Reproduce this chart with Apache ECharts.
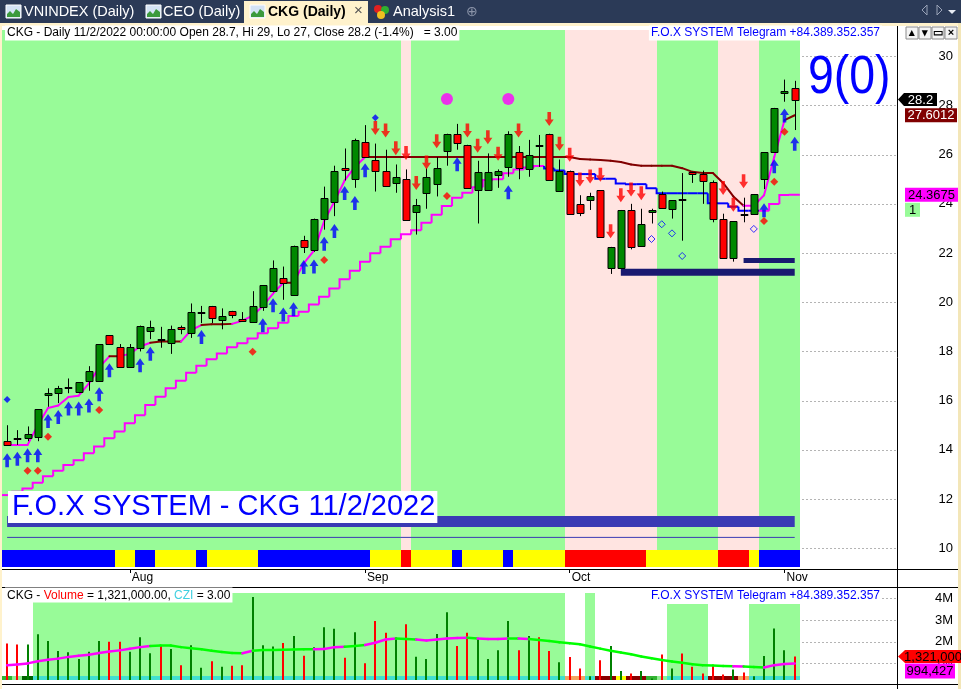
<!DOCTYPE html>
<html><head><meta charset="utf-8">
<script src="https://cdn.jsdelivr.net/npm/echarts@6/dist/echarts.min.js"></script>
<style>html,body{margin:0;padding:0;background:#fff;}#c{width:961px;height:689px;}</style>
</head><body><div id="c"></div>
<script>
// ---------------- DATA ----------------
const dates = ['7/14','7/15','7/18','7/19','7/20','7/21','7/22','7/25','7/26','7/27','7/28','7/29',
'8/1','8/2','8/3','8/4','8/5','8/8','8/9','8/10','8/11','8/12','8/15','8/16','8/17','8/18','8/19','8/22','8/23','8/24','8/25','8/26','8/29','8/30','8/31',
'9/5','9/6','9/7','9/8','9/9','9/12','9/13','9/14','9/15','9/16','9/19','9/20','9/21','9/22','9/23','9/26','9/27','9/28','9/29','9/30',
'10/3','10/4','10/5','10/6','10/7','10/10','10/11','10/12','10/13','10/14','10/17','10/18','10/19','10/20','10/21','10/24','10/25','10/26','10/27','10/28','10/31',
'11/1','11/2'];
const monthNames = ['Jan','Feb','Mar','Apr','May','Jun','Jul','Aug','Sep','Oct','Nov','Dec'];

const open = [14.35,14.5,14.5,14.5,16.2,16.3,16.55,16.35,16.8,16.8,
18.65,18.2,17.4,18.15,18.85,18.5,18.35,19.0,18.75,19.6,
19.85,19.3,19.65,19.3,19.2,19.8,20.45,21.0,20.3,22.55,
22.15,23.4,24.1,25.45,25.0,26.5,25.8,25.35,24.85,25.0,
23.65,24.45,24.8,26.15,26.85,26.4,24.55,24.55,25.2,25.5,
26.1,25.45,26.4,26.85,24.55,25.35,24.0,24.15,24.55,21.4,
21.4,23.75,22.3,23.65,24.4,23.8,24.2,25.3,25.2,24.9,
23.4,21.8,23.6,23.6,25.0,26.1,28.5,28.7];
const high = [15.0,14.8,14.95,15.65,16.5,16.6,16.9,16.75,17.4,18.3,
18.65,18.3,18.3,19.05,19.25,19.0,19.05,19.05,19.95,19.85,
19.85,19.75,19.65,19.6,20.45,20.7,21.7,21.45,22.3,22.7,
23.4,24.7,25.55,26.25,26.65,27.2,26.45,26.2,25.6,25.4,
24.2,25.45,25.9,26.85,27.25,26.4,25.75,26.05,25.4,26.95,
26.35,26.6,26.8,26.85,25.8,25.35,24.35,24.45,24.55,22.25,
23.75,24.0,23.8,23.8,24.5,24.15,25.25,25.3,25.35,24.95,
23.6,23.3,24.25,24.4,26.1,27.9,29.05,29.0];
const low = [14.2,14.2,14.35,14.35,15.75,15.9,16.3,16.3,16.4,16.8,
18.3,17.4,17.35,18.0,18.5,18.15,17.9,18.7,18.55,19.15,
19.15,18.9,19.35,19.2,19.2,19.65,20.4,20.1,20.3,22.0,
22.05,22.95,23.5,24.95,24.65,25.9,24.5,24.75,24.45,23.35,
22.75,23.8,24.3,25.55,26.2,24.65,23.2,24.55,24.65,25.1,
25.0,25.1,25.5,25.0,24.55,23.6,23.5,23.75,22.65,21.15,
21.4,22.15,22.25,23.2,23.8,23.4,22.5,24.85,24.0,23.25,
21.8,21.65,23.25,23.55,24.6,26.1,28.15,27.0];
const close = [14.2,14.5,14.65,15.65,16.3,16.5,16.55,16.75,17.2,18.3,
18.3,17.4,18.2,19.05,19.0,18.5,18.9,18.9,19.6,19.6,
19.35,19.45,19.5,19.2,19.85,20.7,21.4,20.8,22.3,22.25,
23.4,24.25,25.35,25.35,26.6,25.9,25.35,24.75,25.1,23.35,
23.95,25.1,25.45,26.85,26.5,24.65,25.3,25.3,25.35,26.85,
25.45,26.0,26.4,25.0,25.35,23.6,23.65,24.3,22.65,22.25,
23.75,22.25,23.2,23.75,23.85,24.15,24.2,25.2,24.9,23.4,
21.8,23.3,23.6,24.4,26.1,27.9,28.6,28.2];

// upper trailing line (magenta rising / maroon flat-falling)
const trendLine = [14.2,14.2,14.2,15.0,15.7,15.8,16.15,16.2,16.7,17.35,
17.8,17.8,17.9,18.2,18.35,18.4,18.4,18.4,18.87,19.07,
19.1,19.1,19.12,19.25,19.45,19.85,20.35,20.79,20.79,21.58,
22.1,23.3,24.1,24.95,25.5,25.9,25.9,25.9,25.9,25.9,
25.9,25.9,25.9,25.9,25.9,25.9,25.9,25.9,25.9,25.9,
25.9,25.9,25.9,25.9,25.9,25.9,25.82,25.8,25.78,25.75,
25.7,25.6,25.55,25.55,25.55,25.55,25.45,25.3,25.25,25.25,
24.85,24.3,23.92,23.92,24.35,25.9,27.4,27.6012];
const trendColorRuns = [['M',11],['R',1],['M',3],['R',3],['M',2],['R',3],['M',5],['R',1],['M',7],['R',37],['M',4],['R',1]];

// lower step stop line (magenta rising / blue falling)
const stopLine = [12.16,12.3,12.43,12.66,12.93,13.15,13.38,13.58,13.86,14.13,
14.47,14.74,15.08,15.41,15.82,16.16,16.5,16.81,17.13,17.42,
17.68,17.92,18.17,18.33,18.53,18.74,18.94,19.17,19.44,19.61,
19.91,20.22,20.56,20.93,21.28,21.65,21.99,22.26,22.56,22.76,
22.93,23.23,23.56,23.91,24.25,24.45,24.67,24.97,25.0,25.24,
25.4,25.48,25.54,25.44,25.35,25.21,25.21,25.21,25.02,25.02,
24.83,24.8,24.8,24.63,24.43,24.43,24.43,24.43,24.43,24.02,
24.02,23.88,23.72,23.72,23.72,23.99,24.36,24.3675];
const stopColorRuns = [['M',53],['B',21],['M',4]];

const bandLevel = 11.09, thinLevel = 10.44;
const support1 = {from:60, to:77, value:21.22};
const support2 = {from:72, to:77, value:21.7};

const priceBgRuns = [['G',39],['P',1],['G',15],['P',9],['G',6],['P',4],['G',4]];
const ribbonRuns = [['B',11],['Y',2],['B',2],['Y',4],['B',1],['Y',5],['B',11],['Y',3],['R',1],['Y',4],['B',1],['Y',4],['B',1],['Y',5],['R',8],['Y',7],['R',3],['Y',1],['B',4]];

const buyArrows = [[0,13.86],[1,13.92],[2,14.06],[3,14.06],[4,15.46],[5,15.62],[6,15.96],[7,15.96],[8,16.09],[9,16.54],
[10,17.52],[13,17.72],[14,18.19],[19,18.87],[25,19.35],[26,20.16],[27,19.79],[28,20.0],[29,21.72],[30,21.74],[31,22.66],
[32,23.18],[33,24.72],[34,24.32],[35,25.65],[44,25.89],[49,24.76],[74,24.02],[75,25.81],[76,27.88],[77,26.73]];
const sellArrows = [[36,26.8],[37,26.7],[38,25.98],[39,25.78],[40,24.56],[41,25.4],[42,26.26],[45,26.7],[46,26.08],[47,26.42],
[48,25.75],[50,26.7],[53,27.16],[54,26.16],[55,25.71],[56,24.7],[57,24.83],[58,24.9],[59,22.6],[60,24.06],[61,24.3],[62,24.15],
[70,24.36],[71,23.68],[72,24.63]];
const redDots = [[2,13.15],[3,13.15],[4,14.53],[9,15.62],[24,17.99],[31,21.72],[43,24.32],[74,23.3],[75,24.9],[76,26.93]];
const blueDots = [[0,16.05],[36,27.5]];
const hollowDiamonds = [[63,22.57],[64,23.17],[65,22.8],[66,21.88],[73,22.98]];
const pinkCircles = [[43,28.26],[49,28.26]];

// volume (millions)
const volume = [1.92,1.87,1.87,2.34,2.03,1.57,1.51,1.2,1.54,2.03,
2.0,2.0,1.54,2.21,1.47,1.84,1.66,0.92,1.84,0.8,
1.1,0.85,0.89,0.92,4.06,1.84,1.78,1.94,2.26,1.35,
1.75,2.67,2.6,1.26,2.44,1.01,2.95,2.41,2.2,2.81,
1.31,1.2,2.35,3.36,1.8,2.41,2.12,1.2,1.61,2.95,
1.61,2.26,2.2,1.57,1.05,1.29,0.77,0.41,1.14,1.8,
0.65,0.54,0.65,0.3,1.41,0.77,1.46,0.85,0.54,0.92,
0.49,0.72,0.58,0.41,1.34,2.61,1.61,1.321];
const volColor = 'RRGGGGGGGG'+'RRGGGRGRGG'+'RGRRGGGRGR'+'GGGRGRRRGR'+'GGGGRRGGGG'+'RGRRGRRGRG'+'GRGGRGRRRR'+'RGRGGGGR';
const volMA = [0.92,0.95,1.0,1.1,1.17,1.22,1.3,1.35,1.4,1.48,
1.55,1.6,1.68,1.75,1.8,1.83,1.82,1.75,1.7,1.65,
1.58,1.53,1.48,1.47,1.58,1.62,1.62,1.63,1.64,1.65,
1.65,1.66,1.75,1.77,1.8,1.85,1.95,2.1,2.15,2.13,
2.1,2.05,2.1,2.15,2.17,2.18,2.15,2.12,2.12,2.15,
2.15,2.12,2.08,2.03,1.97,1.93,1.88,1.78,1.68,1.58,
1.5,1.42,1.32,1.24,1.16,1.09,1.03,0.96,0.92,0.9,
0.88,0.87,0.86,0.83,0.81,0.92,0.97,0.994427];
const volMAColorRuns = [['M',15],['G',9],['M',1],['G',6],['M',3],['G',2],['M',3],['G',2],['M',5],['G',1],['M',3],['G',1],['M',1],['G',20],['M',1],['G',2],['M',3]];
const volBgRuns = [[0,3],[4.24,52],[0,2],[4.24,1],[0,7],[3.76,4],[0,4],[3.76,5]];
const volRibbonRuns = [['g',1],['l',1],['d',1],['c',52],['o',2],['c',1],['r',2],['y',1],['r',2],['g',1],['l',1],['c',4],['r',3],['o',1],['c',5]];

const priceTicks = [10,12,14,16,18,20,22,24,26,28,30];
const volTicks = [1,2,3,4];

// ---------------- BUILD ----------------
const expand = r => r.flatMap(([k,n]) => Array(n).fill(k));
const trendColor = expand(trendColorRuns), stopColor = expand(stopColorRuns);
const priceBg = expand(priceBgRuns), ribbon = expand(ribbonRuns);
const volMAColor = expand(volMAColorRuns), volBg = expand(volBgRuns), volRibbon = expand(volRibbonRuns);
const N = dates.length;
const monthOf = d => parseInt(d.split('/')[0], 10);
const monthTicks = [], monthLabels = [];
dates.forEach((d,i)=>{ if(i>0 && monthOf(d)!==monthOf(dates[i-1])){ monthTicks.push(i); monthLabels.push(monthNames[monthOf(d)-1]); }});

const FONT = '"Liberation Sans", Arial, sans-serif';
const COL = {M:'#ff00ff', R:'#800000', B:'#0000ff', G:'#98fb98', P:'#ffe4e1'};
const ribbonCol = {B:'#0000ff', Y:'#ffff00', R:'#ff0000'};
const volRibCol = {c:'#40e0d0', o:'#f4a460', r:'#8b0000', y:'#ffff00', g:'#32b432', l:'#90ee90', d:'#006400'};

const chart = echarts.init(document.getElementById('c'));

function gridLineRender(params, api){
  const cs = params.coordSys;
  const y = Math.round(api.coord([0, api.value(1)])[1]) + 0.5;
  return {type:'line', shape:{x1:cs.x, y1:y, x2:cs.x+cs.width, y2:y}, style:{stroke:'#b4b4b4', lineWidth:1, lineDash:[2,2]}};
}
function priceBgRender(params, api){
  const cs = params.coordSys, i = api.value(0);
  const x0 = Math.round(api.coord([i-0.5, 20])[0]), x1 = Math.round(api.coord([i+0.5, 20])[0]);
  const bot = cs.y + cs.height;
  return {type:'group', children:[
    {type:'rect', shape:{x:x0, y:cs.y, width:x1-x0, height:cs.height}, style:{fill:'#ffffff'}},
    {type:'rect', shape:{x:x0, y:cs.y+5, width:x1-x0, height:cs.height-7}, style:{fill:COL[priceBg[i]]}},
    {type:'rect', shape:{x:x0, y:bot-19, width:x1-x0, height:17}, style:{fill:ribbonCol[ribbon[i]]}}
  ]};
}
function trendRender(params, api){
  const i = api.value(0);
  if(i === 0) return null;
  const p0 = api.coord([i-1, trendLine[i-1]]), p1 = api.coord([i, trendLine[i]]);
  return {type:'line', shape:{x1:p0[0], y1:p0[1], x2:p1[0], y2:p1[1]}, style:{stroke:COL[trendColor[i]], lineWidth:2, lineCap:'round'}};
}
function stopRender(params, api){
  const i = api.value(0);
  const xL = api.coord([i-0.5, stopLine[i]])[0], xR = api.coord([i+0.5, stopLine[i]])[0];
  const y = api.coord([i, stopLine[i]])[1];
  const yP = i>0 ? api.coord([i, stopLine[i-1]])[1] : y;
  return {type:'polyline', shape:{points:[[xL,yP],[xL,y],[xR,y]]}, style:{stroke:COL[stopColor[i]], lineWidth:2, fill:null}};
}
function candleRender(params, api){
  const i = api.value(0), o = api.value(1), c = api.value(2), l = api.value(3), h = api.value(4);
  const pO = api.coord([i,o]), pC = api.coord([i,c]), pL = api.coord([i,l]), pH = api.coord([i,h]);
  const x = Math.round(pO[0]) + 0.5;
  const top = Math.min(pO[1],pC[1]), bot = Math.max(pO[1],pC[1]);
  const fill = c>o ? '#008800' : (c<o ? '#ff0000' : '#000000');
  return {type:'group', children:[
    {type:'line', shape:{x1:x, y1:pH[1], x2:x, y2:pL[1]}, style:{stroke:'#000', lineWidth:1}},
    {type:'rect', shape:{x:x-3.5, y:Math.round(top)+0.5, width:7, height:Math.max(Math.round(bot-top),1)}, style:{fill:fill, stroke:'#000', lineWidth:1}}
  ]};
}
function volBgRender(params, api){
  const cs = params.coordSys, i = api.value(0);
  const x0 = Math.round(api.coord([i-0.5, 1])[0]), x1 = Math.round(api.coord([i+0.5, 1])[0]);
  const bot = cs.y + cs.height;
  const ch = [{type:'rect', shape:{x:x0, y:cs.y, width:x1-x0, height:cs.height}, style:{fill:'#ffffff'}}];
  if(volBg[i] > 0){
    const yt = Math.round(api.coord([i, volBg[i]])[1]);
    ch.push({type:'rect', shape:{x:x0, y:yt, width:x1-x0, height:bot-yt}, style:{fill:'#98fb98'}});
  }
  ch.push({type:'rect', shape:{x:x0, y:bot-4, width:x1-x0, height:4}, style:{fill:volRibCol[volRibbon[i]]}});
  return {type:'group', children:ch};
}
function volBarRender(params, api){
  const cs = params.coordSys, i = api.value(0), v = api.value(1);
  const p = api.coord([i, v]);
  const x = Math.round(p[0]) - 1;
  const bot = cs.y + cs.height;
  return {type:'rect', shape:{x:x, y:p[1], width:2, height:bot-p[1]}, style:{fill: volColor[i]==='G' ? '#008000' : '#ff0000'}};
}
function volMARender(params, api){
  const i = api.value(0);
  if(i === 0) return null;
  const p0 = api.coord([i-1, volMA[i-1]]), p1 = api.coord([i, volMA[i]]);
  return {type:'line', shape:{x1:p0[0], y1:p0[1], x2:p1[0], y2:p1[1]}, style:{stroke: volMAColor[i]==='M' ? '#ff00ff' : '#00ff00', lineWidth:2.5, lineCap:'round'}};
}

const idxData = dates.map((d,i)=>[i, 20]);
const UP = 'path://M5,0 L10,7 L7,7 L7,15 L3,15 L3,7 L0,7 Z';
const DOWN = 'path://M3,0 L7,0 L7,8 L10,8 L5,15 L0,8 L3,8 Z';
const flatLine = (a,b,v,w,color) => ({type:'line', xAxisIndex:0, yAxisIndex:0, data:[[a,v],[b,v]], symbol:'none', silent:true, z:3,
  lineStyle:{width:w, color:color, cap:'butt'}});

const option = {
  animation:false,
  backgroundColor:'#ffffff',
  grid:[{left:2, right:64, top:25, height:544}, {left:2, right:64, top:587, height:93}],
  xAxis:[
    {type:'value', gridIndex:0, min:-0.5, max:87, axisLine:{show:false}, splitLine:{show:false},
     axisTick:{show:true, customValues:monthTicks, length:4, lineStyle:{color:'#000'}},
     axisLabel:{show:true, customValues:monthTicks, formatter:v=>{const k=monthTicks.indexOf(v); return k>=0?monthLabels[k]:'';},
       align:'left', margin:3, padding:[0,0,0,2], color:'#000', fontSize:12, fontFamily:FONT}},
    {type:'value', gridIndex:1, min:-0.5, max:87, axisLine:{show:false}, axisTick:{show:false}, axisLabel:{show:false}, splitLine:{show:false}}
  ],
  yAxis:[
    {type:'value', gridIndex:0, position:'right', min:9.155, max:31.27, axisLine:{show:false}, splitLine:{show:false},
     axisTick:{show:true, customValues:priceTicks, length:5, lineStyle:{color:'#000'}},
     axisLabel:{customValues:priceTicks, align:'right', margin:56, color:'#000', fontSize:13, fontFamily:FONT}},
    {type:'value', gridIndex:1, position:'right', min:0.235, max:4.521, axisLine:{show:false}, splitLine:{show:false},
     axisTick:{show:true, customValues:volTicks, length:5, lineStyle:{color:'#000'}},
     axisLabel:{customValues:volTicks, formatter:v=>v+'M', align:'right', margin:56, color:'#000', fontSize:13, fontFamily:FONT}}
  ],
  series:[
    {type:'custom', xAxisIndex:0, yAxisIndex:0, data:priceTicks.map(v=>[0,v]), renderItem:gridLineRender, z:1, silent:true},
    {type:'custom', xAxisIndex:0, yAxisIndex:0, data:idxData, renderItem:priceBgRender, z:2, silent:true},
    flatLine(0,77,bandLevel,11,'#3a3ab4'),
    flatLine(0,77,thinLevel,1,'#3a3ab4'),
    flatLine(support1.from,support1.to,support1.value,7,'#191970'),
    flatLine(support2.from,support2.to,support2.value,5,'#191970'),
    {type:'custom', xAxisIndex:0, yAxisIndex:0, data:idxData, renderItem:stopRender, z:4, silent:true},
    {type:'custom', xAxisIndex:0, yAxisIndex:0, data:idxData, renderItem:trendRender, z:4, silent:true},
    {type:'custom', xAxisIndex:0, yAxisIndex:0, data:dates.map((d,i)=>[i,open[i],close[i],low[i],high[i]]), encode:{x:0,y:[1,2,3,4]}, renderItem:candleRender, z:5, silent:true},
    {type:'scatter', xAxisIndex:0, yAxisIndex:0, data:buyArrows, symbol:UP, symbolSize:[9,14], symbolOffset:[0,7], itemStyle:{color:'#0000ff'}, z:6, silent:true},
    {type:'scatter', xAxisIndex:0, yAxisIndex:0, data:sellArrows, symbol:DOWN, symbolSize:[9,14], symbolOffset:[0,-7], itemStyle:{color:'#ff0000'}, z:6, silent:true},
    {type:'scatter', xAxisIndex:0, yAxisIndex:0, data:redDots, symbol:'diamond', symbolSize:8, itemStyle:{color:'#ff0000'}, z:6, silent:true},
    {type:'scatter', xAxisIndex:0, yAxisIndex:0, data:blueDots, symbol:'diamond', symbolSize:7, itemStyle:{color:'#0000ff'}, z:6, silent:true},
    {type:'scatter', xAxisIndex:0, yAxisIndex:0, data:hollowDiamonds, symbol:'diamond', symbolSize:7, itemStyle:{color:'rgba(0,0,0,0)', borderColor:'#0000ff', borderWidth:1}, z:6, silent:true},
    {type:'scatter', xAxisIndex:0, yAxisIndex:0, data:pinkCircles, symbol:'circle', symbolSize:12, itemStyle:{color:'#ff00ff'}, z:6, silent:true},
    {type:'custom', xAxisIndex:1, yAxisIndex:1, data:volTicks.map(v=>[0,v]), renderItem:gridLineRender, z:1, silent:true},
    {type:'custom', xAxisIndex:1, yAxisIndex:1, data:dates.map((d,i)=>[i,1]), renderItem:volBgRender, z:2, silent:true},
    {type:'custom', xAxisIndex:1, yAxisIndex:1, data:volume.map((v,i)=>[i,v]), renderItem:volBarRender, z:3, silent:true},
    {type:'custom', xAxisIndex:1, yAxisIndex:1, data:idxData, renderItem:volMARender, z:4, silent:true}
  ]
};
chart.setOption(option);

// ---------------- OVERLAY (tabs, titles, tags) ----------------
const py = v => chart.convertToPixel({xAxisIndex:0, yAxisIndex:0}, [0, v])[1];
const vy = v => chart.convertToPixel({xAxisIndex:1, yAxisIndex:1}, [0, v])[1];
const Z = 200;
const g = [];
const txt = (x,y,text,font,fill,extra) => ({type:'text', x:x, y:y, z:Z+2, silent:true,
  style:Object.assign({text:text, font:font, fill:fill, verticalAlign:'middle'}, extra||{})});
const rect = (x,y,w,h,fill,extra) => ({type:'rect', z:Z, silent:true, shape:{x:x,y:y,width:w,height:h}, style:Object.assign({fill:fill}, extra||{})});

// tab bar
g.push(rect(0,0,961,23,'#2b3a57'));
g.push(rect(0,23,961,3,'#fff2cc'));
g.push(rect(244,1,124,23,'#fff2cc'));
function chartIcon(x){
  g.push(Object.assign(rect(x,5,15,13,'#d4e3f5',{stroke:'#ffffff', lineWidth:1}),{z:Z+1}));
  g.push({type:'polygon', z:Z+2, silent:true, shape:{points:[[x+1,17],[x+1,14],[x+4,11],[x+7,14],[x+10,9],[x+14,12],[x+14,17]]}, style:{fill:'#3c9a3c'}});
}
chartIcon(6); chartIcon(146); chartIcon(250);
g.push(txt(24,12,'VNINDEX (Daily)','14.5px '+FONT,'#ffffff'));
g.push(txt(163,12,'CEO (Daily)','14.5px '+FONT,'#ffffff'));
g.push(txt(268,12,'CKG (Daily)','bold 14px '+FONT,'#000000'));
g.push(txt(354,11,'\u00d7','15px '+FONT,'#555555'));
g.push({type:'circle', z:Z+2, silent:true, shape:{cx:378,cy:9,r:4}, style:{fill:'#e02020'}});
g.push({type:'circle', z:Z+2, silent:true, shape:{cx:385,cy:10,r:4}, style:{fill:'#30b030'}});
g.push({type:'circle', z:Z+2, silent:true, shape:{cx:381,cy:15,r:4}, style:{fill:'#f0c020'}});
g.push(txt(393,12,'Analysis1','14.5px '+FONT,'#ffffff'));
g.push(txt(466,12,'\u2295','14px '+FONT,'#8a93a8'));
g.push({type:'polygon', z:Z+2, silent:true, shape:{points:[[927,5],[927,15],[922,10]]}, style:{fill:'none', stroke:'#9aa3b8'}});
g.push({type:'polygon', z:Z+2, silent:true, shape:{points:[[937,5],[937,15],[942,10]]}, style:{fill:'none', stroke:'#9aa3b8'}});
g.push({type:'polygon', z:Z+2, silent:true, shape:{points:[[948,10],[956,10],[952,14]]}, style:{fill:'#e8ecf4'}});

// frame
g.push(rect(0,23,2,666,'#fff2cc'));
g.push(rect(958,23,3,666,'#f3e6b8'));
const hl = (y) => ({type:'line', z:Z+1, silent:true, shape:{x1:2,y1:y,x2:958,y2:y}, style:{stroke:'#000', lineWidth:1}});
g.push(hl(569.5)); g.push(hl(587.5)); g.push(hl(684.5));
g.push({type:'line', z:Z+1, silent:true, shape:{x1:897.5,y1:26,x2:897.5,y2:689}, style:{stroke:'#000', lineWidth:1}});

// window buttons
['\u25b4','\u25be','\u25ad','\u00d7'].forEach((s,k)=>{
  const x = 906 + k*13;
  g.push(rect(x,27,12,12,'#f4f4f4',{stroke:'#8c8c8c', lineWidth:1}));
  g.push(Object.assign(txt(x+6,33,s,'bold 11px '+FONT,'#000',{align:'center'}),{z:Z+3}));
});

// titles
g.push(txt(5,33,'CKG - Daily 11/2/2022 00:00:00 Open 28.7, Hi 29, Lo 27, Close 28.2 (-1.4%)   = 3.00','12px '+FONT,'#000',{backgroundColor:'#ffffff', padding:[2,2,1,2]}));
g.push(txt(882,33,'F.O.X SYSTEM Telegram +84.389.352.357','12px '+FONT,'#0000ff',{align:'right', backgroundColor:'#ffffff', padding:[2,2,1,2]}));
g.push(Object.assign(txt(808,78,'9(0)','54px '+FONT,'#0000ff'),{scaleX:0.86}));
g.push(txt(8,507,'F.O.X SYSTEM - CKG 11/2/2022','29px '+FONT,'#0000ff',{backgroundColor:'#ffffff', padding:[2,2,1,4]}));
g.push(txt(5,595,'{a|CKG - }{r|Volume}{a| = 1,321,000.00, }{c|CZI}{a| = 3.00}','12px '+FONT,'#000',{backgroundColor:'#ffffff', padding:[2,2,1,2],
  rich:{a:{fill:'#000', font:'12px '+FONT}, r:{fill:'#ff0000', font:'12px '+FONT}, c:{fill:'#40d0e0', font:'12px '+FONT}}}));
g.push(txt(882,596,'F.O.X SYSTEM Telegram +84.389.352.357','12px '+FONT,'#0000ff',{align:'right', backgroundColor:'#ffffff', padding:[2,2,1,2]}));

// value tags
function tag(yc, x0, x1, h, text, bg, fg, pointer){
  const y0 = yc - h/2;
  if(pointer) g.push({type:'polygon', z:Z+3, silent:true, shape:{points:[[898,yc],[x0,y0],[x0,y0+h]]}, style:{fill:bg}});
  g.push(Object.assign(rect(x0,y0,x1-x0,h,bg),{z:Z+3}));
  g.push(Object.assign(txt((x0+x1)/2,yc+0.5,text,'13px '+FONT,fg,{align:'center'}),{z:Z+4}));
}
const last = N-1;
tag(py(close[last])-1, 904, 937, 13, String(close[last]), '#000000', '#ffffff', true);
tag(py(trendLine[last]), 905, 957, 14, String(trendLine[last]), '#800000', '#ffffff', false);
tag(py(stopLine[last]), 905, 958, 14, String(stopLine[last]), '#ff00ff', '#000000', false);
tag(py(stopLine[last])+15, 905, 920, 14, '1', '#98fb98', '#000000', false);
const vTop = vy(volume[last]);
tag(vTop, 905, 961, 13, Math.round(volume[last]*1e6).toLocaleString('en-US'), '#ff0000', '#000000', true);
tag(vTop+14.5, 905, 955, 15, Math.round(volMA[last]*1e6).toLocaleString('en-US'), '#ff00ff', '#000000', false);

chart.setOption({graphic:g});
</script>
</body></html>
